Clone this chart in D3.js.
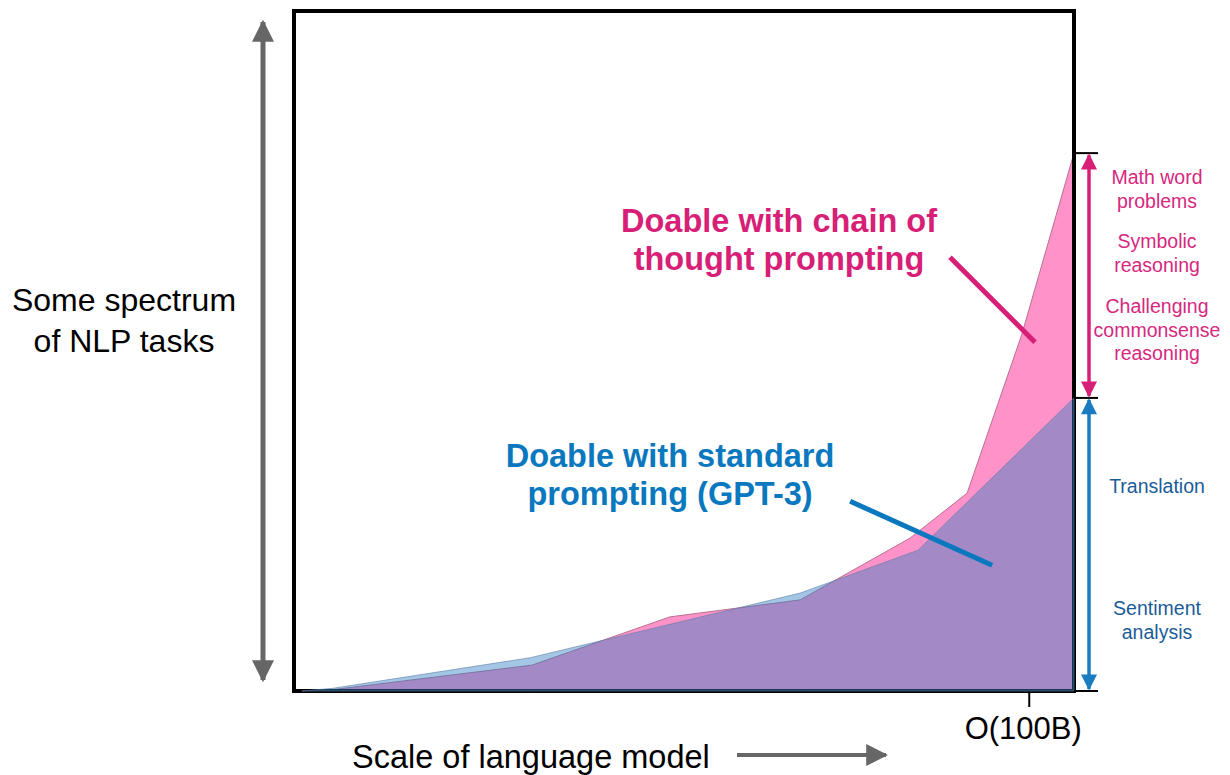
<!DOCTYPE html>
<html>
<head>
<meta charset="utf-8">
<script src="https://cdn.jsdelivr.net/npm/d3@7"></script>
<style>
  body { margin: 0; background: #fff; }
  svg text { font-family: "Helvetica Neue", Helvetica, "Liberation Sans", Arial, sans-serif; }
</style>
</head>
<body>
<div id="chart"></div>
<script>
// model scale (0-100, arbitrary) and share of task spectrum that is doable
const standardX = [1, 5, 30.3, 64.9, 80, 100];
const standardY = [0, 0.4, 4.9, 14.4, 20.7, 43.1];
const chainX = [1, 5, 30.5, 48.2, 64.9, 79, 86.3, 93.3, 100];
const chainY = [0, 0.2, 3.8, 10.9, 13.4, 22.5, 29.1, 52.4, 79.1];

const tickValues = [94.2];
const tickLabels = ["O(100B)"];

const chainTasks = [["Math word", "problems"], ["Symbolic", "reasoning"], ["Challenging", "commonsense", "reasoning"]];
const standardTasks = [["Translation"], ["Sentiment", "analysis"]];

const width = 1230, height = 775;
const margin = { top: 11, right: 156, bottom: 84, left: 294 };

const pink = "#ff92c8";
const pinkText = "#d81f78";
const blue = "rgb(45,125,193)";
const blueText = "#0a78be";
const gray = "#666";

const svg = d3.select("#chart").append("svg")
    .attr("width", width)
    .attr("height", height);

const x = d3.scaleLinear().domain([0, 100]).range([margin.left, width - margin.right]);
const y = d3.scaleLinear().domain([0, 100]).range([height - margin.bottom, margin.top]);

const area = d3.area()
    .x(d => x(d[0]))
    .y0(y(0))
    .y1(d => y(d[1]));

const chainData = chainX.map((v, i) => [v, chainY[i]]);
const standardData = standardX.map((v, i) => [v, standardY[i]]);

// chain of thought area (opaque pink, under the frame)
svg.append("path")
    .datum(chainData)
    .attr("d", area)
    .attr("fill", pink)
    .attr("stroke", "#b8708f")
    .attr("stroke-width", 1);

// frame
svg.append("rect")
    .attr("x", x(0))
    .attr("y", y(100))
    .attr("width", x(100) - x(0))
    .attr("height", y(0) - y(100))
    .attr("fill", "none")
    .attr("stroke", "#000")
    .attr("stroke-width", 4);

// standard prompting area, see-through so the overlap turns purple
svg.append("path")
    .datum(standardData)
    .attr("d", area)
    .attr("fill", blue)
    .attr("fill-opacity", 0.44)
    .attr("stroke", "#5d7ea6")
    .attr("stroke-opacity", 0.6)
    .attr("stroke-width", 1);

// x tick
const xAxis = d3.axisBottom(x)
    .tickValues(tickValues)
    .tickFormat((d, i) => tickLabels[i])
    .tickSize(14)
    .tickPadding(10);

const axisG = svg.append("g")
    .attr("transform", `translate(0,${y(0) + 2})`)
    .call(xAxis);
axisG.select(".domain").remove();
axisG.selectAll(".tick line").attr("stroke", "#000").attr("stroke-width", 2);
axisG.selectAll(".tick text")
    .attr("fill", "#000")
    .style("font-size", "31px")
    .style("font-family", "'Helvetica Neue', Helvetica, 'Liberation Sans', Arial, sans-serif")
    .attr("dx", -6);

// arrow heads
const defs = svg.append("defs");
function marker(id, color, w, h) {
    defs.append("marker")
        .attr("id", id)
        .attr("viewBox", "0 0 10 10")
        .attr("refX", 9)
        .attr("refY", 5)
        .attr("markerUnits", "userSpaceOnUse")
        .attr("markerWidth", w)
        .attr("markerHeight", h)
        .attr("orient", "auto-start-reverse")
        .append("path")
        .attr("d", "M0,0L10,5L0,10Z")
        .attr("fill", color);
}
marker("head-gray", gray, 22, 22);
marker("head-pink", pinkText, 18, 16);
marker("head-blue", "#1a7cc0", 18, 16);

// left spectrum arrow
svg.append("line")
    .attr("x1", 263).attr("x2", 263)
    .attr("y1", 680).attr("y2", 22)
    .attr("stroke", gray)
    .attr("stroke-width", 5)
    .attr("marker-start", "url(#head-gray)")
    .attr("marker-end", "url(#head-gray)");

svg.append("text")
    .attr("text-anchor", "middle")
    .style("font-size", "32px")
    .attr("fill", "#000")
    .selectAll("tspan")
    .data(["Some spectrum", "of NLP tasks"])
    .join("tspan")
    .attr("x", 124)
    .attr("y", (d, i) => 311 + i * 41)
    .text(d => d);

// bottom scale arrow
svg.append("text")
    .attr("x", 352)
    .attr("y", 768)
    .style("font-size", "32.5px")
    .attr("fill", "#000")
    .text("Scale of language model");

svg.append("line")
    .attr("x1", 737).attr("x2", 886)
    .attr("y1", 755).attr("y2", 755)
    .attr("stroke", gray)
    .attr("stroke-width", 4)
    .attr("marker-end", "url(#head-gray)");

// right bracket ticks and arrows
const levels = [d3.max(chainY), d3.max(standardY), 0];
svg.selectAll(".bracket-tick")
    .data(levels)
    .join("line")
    .attr("class", "bracket-tick")
    .attr("x1", x(100)).attr("x2", x(100) + 24)
    .attr("y1", d => y(d)).attr("y2", d => y(d))
    .attr("stroke", "#000")
    .attr("stroke-width", 2);

svg.append("line")
    .attr("x1", x(100) + 15).attr("x2", x(100) + 15)
    .attr("y1", y(levels[1]) - 2).attr("y2", y(levels[0]) + 2)
    .attr("stroke", pinkText)
    .attr("stroke-width", 3.5)
    .attr("marker-start", "url(#head-pink)")
    .attr("marker-end", "url(#head-pink)");

svg.append("line")
    .attr("x1", x(100) + 15).attr("x2", x(100) + 15)
    .attr("y1", y(levels[2]) - 2).attr("y2", y(levels[1]) + 2)
    .attr("stroke", "#1a7cc0")
    .attr("stroke-width", 3.5)
    .attr("marker-start", "url(#head-blue)")
    .attr("marker-end", "url(#head-blue)");

// right task labels
function taskLabels(groups, starts, color) {
    groups.forEach((lines, g) => {
        svg.append("text")
            .attr("text-anchor", "middle")
            .style("font-size", "19.5px")
            .attr("fill", color)
            .selectAll("tspan")
            .data(lines)
            .join("tspan")
            .attr("x", 1157)
            .attr("y", (d, i) => starts[g] + i * 23.5)
            .text(d => d);
    });
}
taskLabels(chainTasks, [184, 248, 313], "#d6287f");
taskLabels(standardTasks, [493, 615], "#1b5c98");

// callouts
function callout(lines, cx, baseline, color) {
    svg.append("text")
        .attr("text-anchor", "middle")
        .style("font-size", "32.5px")
        .style("font-weight", "bold")
        .attr("fill", color)
        .selectAll("tspan")
        .data(lines)
        .join("tspan")
        .attr("x", cx)
        .attr("y", (d, i) => baseline + i * 38)
        .text(d => d);
}
callout(["Doable with chain of", "thought prompting"], 779, 232, pinkText);
callout(["Doable with standard", "prompting (GPT-3)"], 670, 467, blueText);

svg.append("line")
    .attr("x1", x(84.1)).attr("y1", y(63.8))
    .attr("x2", x(95)).attr("y2", y(51.3))
    .attr("stroke", pinkText)
    .attr("stroke-width", 5);

svg.append("line")
    .attr("x1", x(71.3)).attr("y1", y(27.9))
    .attr("x2", x(89.5)).attr("y2", y(18.5))
    .attr("stroke", blueText)
    .attr("stroke-width", 5);
</script>
</body>
</html>
